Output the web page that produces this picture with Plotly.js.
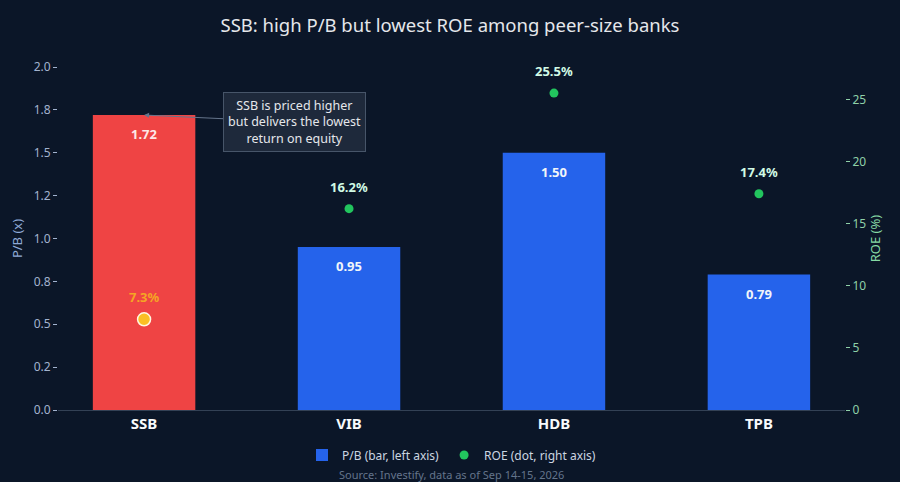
<!DOCTYPE html>
<html>
<head>
<meta charset="utf-8">
<script src="https://cdn.plot.ly/plotly-3.0.1.min.js"></script>
<style>
  html, body { margin: 0; padding: 0; background: #0b1628; }
  #chart { width: 900px; height: 482px; }
</style>
</head>
<body>
<div id="chart"></div>
<script>
const banks = ['SSB', 'VIB', 'HDB', 'TPB'];
const pbValues = [1.72, 0.95, 1.50, 0.79];
const roeValues = [7.3, 16.2, 25.5, 17.4];
const pbTickVals = [0, 0.25, 0.5, 0.75, 1.0, 1.25, 1.5, 1.75, 2.0];
const pbTickText = ['0.0', '0.2', '0.5', '0.8', '1.0', '1.2', '1.5', '1.8', '2.0'];

const highlight = 'SSB';
const isHi = banks.map(b => b === highlight);
const pick = (arr, want) => arr.filter((_, i) => isHi[i] === want);

// highlighted bank drawn in its own traces so the legend keeps the peer colours
const barsPeer = {
    x: pick(banks, false), y: pick(pbValues, false),
    type: 'bar', name: 'P/B (bar, left axis)', width: 0.5,
    marker: { color: '#2563eb' }, hoverinfo: 'skip'
};
const barsHi = {
    x: pick(banks, true), y: pick(pbValues, true),
    type: 'bar', showlegend: false, width: 0.5,
    marker: { color: '#ef4444' }, hoverinfo: 'skip'
};
const dotsPeer = {
    x: pick(banks, false), y: pick(roeValues, false), yaxis: 'y2',
    type: 'scatter', mode: 'markers', name: 'ROE (dot, right axis)',
    marker: { color: '#22c55e', size: 9, opacity: 1 }, hoverinfo: 'skip'
};
const dotsHi = {
    x: pick(banks, true), y: pick(roeValues, true), yaxis: 'y2',
    type: 'scatter', mode: 'markers', showlegend: false,
    marker: { color: '#fbbf24', size: 13, opacity: 1, line: { color: '#fff7e0', width: 1.5 } },
    hoverinfo: 'skip'
};

const barLabels = banks.map((b, i) => ({
    x: b, y: pbValues[i], xref: 'x', yref: 'y',
    text: pbValues[i].toFixed(2), showarrow: false,
    yanchor: 'middle', yshift: -19,
    font: { size: 13, color: isHi[i] ? '#fde8e8' : '#f1f5f9', weight: 'bold' }
}));
const dotLabels = banks.map((b, i) => ({
    x: b, y: roeValues[i], xref: 'x', yref: 'y2',
    text: roeValues[i].toFixed(1) + '%', showarrow: false,
    yanchor: 'middle', yshift: 22,
    font: { size: 13, color: isHi[i] ? '#f5a524' : '#d1fae5', weight: 'bold' }
}));

Plotly.newPlot('chart', [barsPeer, barsHi, dotsPeer, dotsHi], {
    width: 900,
    height: 482,
    paper_bgcolor: '#0b1628',
    plot_bgcolor: '#0b1628',
    font: { family: 'Noto Sans', color: '#cbd5e1' },
    title: {
        text: 'SSB: high P/B but lowest ROE among peer-size banks',
        x: 0.5, xanchor: 'center', y: 0.948, yanchor: 'middle',
        font: { size: 18.5, color: '#e5e7eb' }
    },
    margin: { l: 58, r: 55, t: 67, b: 72 },
    barmode: 'overlay',
    xaxis: {
        categoryorder: 'array',
        categoryarray: banks,
        range: [-0.42, 3.42],
        showgrid: false,
        showline: true,
        linecolor: '#334155',
        linewidth: 1,
        ticks: '',
        tickfont: { size: 15, color: '#f8fafc', weight: 'bold' }
    },
    yaxis: {
        range: [0, 2.0],
        tickvals: pbTickVals,
        ticktext: pbTickText,
        showgrid: false,
        zeroline: false,
        ticks: 'outside',
        ticklen: 4,
        tickcolor: '#a3b3cf',
        tickfont: { size: 12, color: '#a3b3cf' },
        title: { text: 'P/B (x)', font: { size: 13, color: '#8fa9d6' }, standoff: 8 }
    },
    yaxis2: {
        overlaying: 'y',
        side: 'right',
        range: [0, 27.6],
        dtick: 5,
        showgrid: false,
        zeroline: false,
        ticks: 'outside',
        ticklen: 4,
        tickcolor: '#8fd1a8',
        tickfont: { size: 12, color: '#8fd1a8' },
        title: { text: 'ROE (%)', font: { size: 13, color: '#86d9a4' }, standoff: 4 }
    },
    showlegend: true,
    legend: {
        orientation: 'h',
        x: 0.5, xanchor: 'center',
        yref: 'container', y: 0.056, yanchor: 'middle',
        font: { size: 12, color: '#cbd5e1' },
        bgcolor: 'rgba(0,0,0,0)'
    },
    annotations: barLabels.concat(dotLabels, [
        {
            x: 'SSB', y: 1.72, xref: 'x', yref: 'y',
            text: 'SSB is priced higher<br>but delivers the lowest<br>return on equity',
            showarrow: true, arrowhead: 2, arrowsize: 1, arrowwidth: 1,
            arrowcolor: '#64748b',
            ax: 150, ay: 7,
            bgcolor: '#1e293b', bordercolor: '#475569', borderwidth: 1, borderpad: 4,
            font: { size: 12.5, color: '#e5e7eb' }
        },
        {
            text: 'Source: Investify, data as of Sep 14-15, 2026',
            xref: 'paper', yref: 'paper', x: 0.5, y: -0.1866,
            xanchor: 'center', yanchor: 'middle',
            showarrow: false,
            font: { size: 11, color: '#64748b' }
        }
    ]),
    hovermode: false
}, { displayModeBar: false });
</script>
</body>
</html>
